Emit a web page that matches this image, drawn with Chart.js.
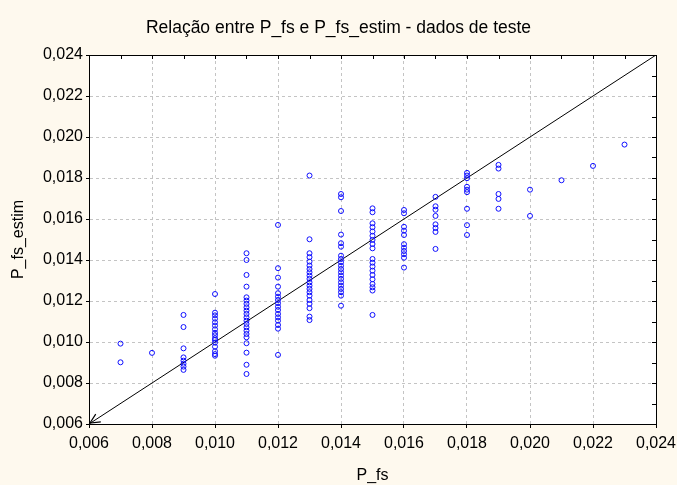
<!DOCTYPE html>
<html>
<head>
<meta charset="utf-8">
<script src="https://cdn.jsdelivr.net/npm/chart.js@4"></script>
<style>
  html, body { margin: 0; padding: 0; background: #fef9ee; }
  #wrap { width: 677px; height: 485px; }
</style>
</head>
<body>
<div id="wrap"><canvas id="dispersaoChart" width="677" height="485"></canvas></div>
<script>
// P_fs observado (colunas) e P_fs_estim lido em cada coluna
const pfsLevels = [0.007, 0.008, 0.009, 0.010, 0.011, 0.012, 0.013, 0.014, 0.015,
                   0.016, 0.017, 0.018, 0.019, 0.020, 0.021, 0.022, 0.023];
const pfsEstim = [
    [0.00992, 0.00901],
    [0.00947],
    [0.01132, 0.01073, 0.00969, 0.00925, 0.00909, 0.00894, 0.00880, 0.00864],
    [0.01234, 0.01143, 0.01130, 0.01114, 0.01096, 0.01080, 0.01062, 0.01045, 0.01033,
     0.01018, 0.01010, 0.00997, 0.00977, 0.00955, 0.00941, 0.00933],
    [0.01433, 0.01400, 0.01327, 0.01270, 0.01218, 0.01202, 0.01186, 0.01169, 0.01153,
     0.01137, 0.01120, 0.01104, 0.01088, 0.01072, 0.01055, 0.01039, 0.01023, 0.00994,
     0.00948, 0.00889, 0.00844],
    [0.01571, 0.01360, 0.01314, 0.01270, 0.01238, 0.01221, 0.01205, 0.01189, 0.01172,
     0.01156, 0.01137, 0.01120, 0.01104, 0.01083, 0.01065, 0.00937],
    [0.01812, 0.01501, 0.01433, 0.01414, 0.01392, 0.01373, 0.01356, 0.01340, 0.01324,
     0.01308, 0.01291, 0.01275, 0.01259, 0.01243, 0.01226, 0.01205, 0.01186, 0.01165,
     0.01124, 0.01107],
    [0.01722, 0.01706, 0.01639, 0.01524, 0.01482, 0.01465, 0.01421, 0.01405, 0.01389,
     0.01372, 0.01356, 0.01340, 0.01324, 0.01308, 0.01291, 0.01275, 0.01259, 0.01243,
     0.01226, 0.01177],
    [0.01652, 0.01633, 0.01579, 0.01560, 0.01539, 0.01518, 0.01498, 0.01478, 0.01457,
     0.01405, 0.01387, 0.01368, 0.01348, 0.01327, 0.01306, 0.01283, 0.01267, 0.01251,
     0.01132],
    [0.01644, 0.01628, 0.01562, 0.01543, 0.01522, 0.01477, 0.01460, 0.01444, 0.01428,
     0.01411, 0.01363],
    [0.01708, 0.01662, 0.01645, 0.01615, 0.01574, 0.01556, 0.01537, 0.01454],
    [0.01825, 0.01812, 0.01799, 0.01757, 0.01743, 0.01731, 0.01650, 0.01570, 0.01522],
    [0.01864, 0.01846, 0.01722, 0.01698, 0.01650],
    [0.01743, 0.01615],
    [0.01789],
    [0.01859],
    [0.01963]
];
const tickValues = [0.006, 0.008, 0.010, 0.012, 0.014, 0.016, 0.018, 0.020, 0.022, 0.024];
const identityLine = [0.024, 0.006];

const points = [];
pfsLevels.forEach((x, i) => pfsEstim[i].forEach(y => points.push({ x: x, y: y })));

const fmt = v => Number(v).toFixed(3).replace('.', ',');
const setTicks = s => { s.ticks = tickValues.map(v => ({ value: v })); };

// fundo branco da área, moldura com marcas menores e ponta de seta
const moldura = {
    id: 'moldura',
    beforeDraw(chart) {
        const { ctx, chartArea: a } = chart;
        ctx.save();
        ctx.fillStyle = '#ffffff';
        ctx.fillRect(a.left, a.top, a.right - a.left, a.bottom - a.top);
        ctx.restore();
    },
    afterDraw(chart) {
        const { ctx, chartArea: a, scales } = chart;
        ctx.save();
        ctx.strokeStyle = '#000';
        ctx.lineWidth = 1;
        ctx.strokeRect(Math.round(a.left) + 0.5, Math.round(a.top) + 0.5,
                       Math.round(a.right - a.left), Math.round(a.bottom - a.top));
        ctx.beginPath();
        for (let k = 0; k <= 18; k++) {
            const v = 0.006 + k * 0.001;
            const px = Math.round(scales.x.getPixelForValue(v)) + 0.5;
            ctx.moveTo(px, a.top); ctx.lineTo(px, a.top + 4);
            const py = Math.round(scales.y.getPixelForValue(v)) + 0.5;
            ctx.moveTo(a.right, py); ctx.lineTo(a.right - 4, py);
        }
        ctx.stroke();
        // seta no início da reta
        const x0 = scales.x.getPixelForValue(identityLine[1]);
        const y0 = scales.y.getPixelForValue(identityLine[1]);
        const x1 = scales.x.getPixelForValue(identityLine[0]);
        const y1 = scales.y.getPixelForValue(identityLine[0]);
        const ang = Math.atan2(y1 - y0, x1 - x0);
        ctx.lineWidth = 1.2;
        ctx.beginPath();
        ctx.moveTo(x0 + 12 * Math.cos(ang - 0.4), y0 + 12 * Math.sin(ang - 0.4));
        ctx.lineTo(x0 + 1, y0 - 1);
        ctx.lineTo(x0 + 12 * Math.cos(ang + 0.4), y0 + 12 * Math.sin(ang + 0.4));
        ctx.stroke();
        ctx.restore();
    }
};

const ctx = document.getElementById('dispersaoChart').getContext('2d');
new Chart(ctx, {
    type: 'scatter',
    data: {
        datasets: [
            {
                label: 'P_fs_estim',
                data: points,
                pointStyle: 'circle',
                pointRadius: 2.5,
                pointBorderWidth: 1,
                borderColor: '#1010ff',
                backgroundColor: 'rgba(0,0,0,0)',
            },
            {
                type: 'line',
                label: 'y = x',
                data: identityLine.map(v => ({ x: v, y: v })),
                borderColor: '#000',
                borderWidth: 1,
                pointRadius: 0,
                fill: false,
            }
        ]
    },
    options: {
        responsive: false,
        animation: false,
        layout: { padding: { left: 21, right: 21, top: 0, bottom: 0 } },
        font: { family: 'Liberation Sans, Arial, sans-serif' },
        plugins: {
            legend: { display: false },
            tooltip: { enabled: false },
            title: {
                display: true,
                text: 'Relação entre P_fs e P_fs_estim - dados de teste',
                color: '#000',
                font: { family: 'Liberation Sans, Arial, sans-serif', size: 17.5, weight: 'normal' },
                padding: { top: 18, bottom: 16 }
            }
        },
        scales: {
            x: {
                type: 'linear',
                min: 0.006, max: 0.024,
                afterBuildTicks: setTicks,
                afterFit: s => { s.height = 61; s.paddingLeft = 0; s.paddingRight = 0; },
                ticks: {
                    callback: fmt, color: '#000', padding: 6, maxRotation: 0,
                    font: { family: 'Liberation Sans, Arial, sans-serif', size: 16 }
                },
                grid: { color: '#c4c4c4', tickColor: '#000', tickLength: 4, lineWidth: 1 },
                border: { color: '#000', dash: [3, 3] },
                title: {
                    display: true, text: 'P_fs', color: '#000',
                    font: { family: 'Liberation Sans, Arial, sans-serif', size: 16 },
                    padding: { top: 0, bottom: 0 }
                }
            },
            y: {
                type: 'linear',
                min: 0.006, max: 0.024,
                afterBuildTicks: setTicks,
                afterFit: s => { s.width = 68; },
                ticks: {
                    callback: fmt, color: '#000', padding: 3,
                    font: { family: 'Liberation Sans, Arial, sans-serif', size: 16 }
                },
                grid: { color: '#c4c4c4', tickColor: '#000', tickLength: 3, lineWidth: 1 },
                border: { color: '#000', dash: [3, 3] },
                title: {
                    display: true, text: 'P_fs_estim', color: '#000',
                    font: { family: 'Liberation Sans, Arial, sans-serif', size: 16 },
                    padding: { top: -12, bottom: 0 }
                }
            }
        }
    },
    plugins: [moldura]
});
</script>
</body>
</html>
